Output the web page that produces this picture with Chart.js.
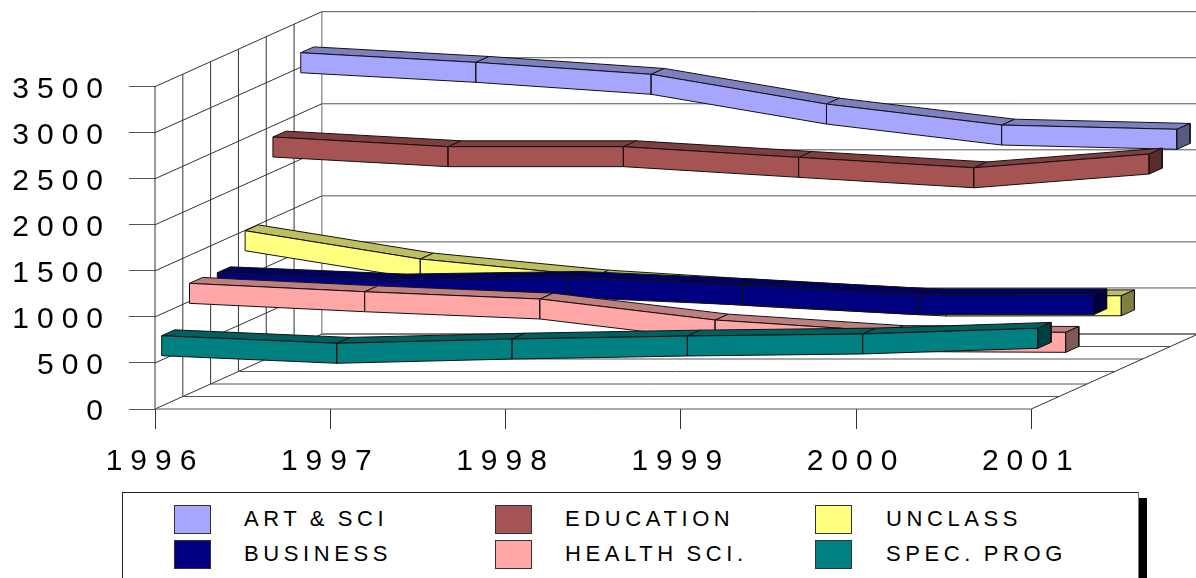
<!DOCTYPE html>
<html>
<head>
<meta charset="utf-8">
<title>Enrollment by college</title>
<script src="https://cdn.jsdelivr.net/npm/chart.js@4"></script>
<style>
    html, body { margin: 0; padding: 0; background: #fff; overflow: hidden; }
    #wrap { position: relative; width: 1196px; height: 578px; overflow: hidden; }
    #chart { position: absolute; left: 0; top: 0; }
    /* Legend is plain html, the built-in one can't do this 3 column box */
    #shadow { position: absolute; left: 1138px; top: 498px; width: 9px; height: 80px; background: #000; }
    #legend { position: absolute; left: 122px; top: 492px; width: 1015px; height: 85px; background: #fff;
              border: 1px solid #222; border-right-color: #777; border-bottom-color: #bbb; }
    .swatch { position: absolute; width: 37px; height: 29px; box-sizing: border-box; border: 1px solid #333; }
    .name { position: absolute; font: 22px "Liberation Sans", Arial, sans-serif; letter-spacing: 4.6px;
            word-spacing: -2px; line-height: 24px; white-space: nowrap; color: #000; }
</style>
</head>
<body>
<div id="wrap">
    <canvas id="chart" width="1196" height="578"></canvas>
    <div id="shadow"></div>
    <div id="legend"></div>
</div>
<script>
// Data
const years = [1996, 1997, 1998, 1999, 2000, 2001];
const yTicks = [0, 500, 1000, 1500, 2000, 2500, 3000, 3500];

const artSci = [3157, 3053, 2923, 2600, 2372, 2326];
const education = [2378, 2273, 2273, 2157, 2044, 2193];
const unclass = [1496, 1189, 1004, 885, 787, 790];
const business = [1176, 1097, 1126, 1042, 937, 937];
const healthSci = [1196, 1105, 1026, 798, 673, 664];
const specProg = [763, 681, 727, 760, 782, 844];

const names = ['ART & SCI', 'EDUCATION', 'UNCLASS', 'BUSINESS', 'HEALTH SCI.', 'SPEC. PROG'];
const seriesValues = [artSci, education, unclass, business, healthSci, specProg];

// front, top, side shades
const shades = [
    ['#A6A6FF', '#7F7FBF', '#595985'],
    ['#A65353', '#7F3F3F', '#592C2C'],
    ['#FFFF80', '#BFBF60', '#808040'],
    ['#000080', '#000060', '#000040'],
    ['#FFA6A6', '#BF7F7F', '#805959'],
    ['#008080', '#006060', '#004040']
];
// depth slot of each series, front slot is 0
const slots = [5, 4, 3, 2, 1, 0];

// Fake 3D: one depth step moves a point right and up, in data units
const DEPTH_STEPS = 6;
const DEPTH_X = 0.1587;
const DEPTH_Y = 135.7;
const RIBBON_NEAR = 0.24;
const RIBBON_FAR = 0.71;
const RIBBON_HEIGHT = 217;

function project(year, value, depth) {
    return { x: year + depth * DEPTH_X, y: value + depth * DEPTH_Y };
}

const datasets = [];

// painter's order, first pushed is drawn first
function addShape(points, fillColor, lineColor) {
    datasets.push({
        data: points,
        showLine: true,
        fill: fillColor ? 'shape' : false,
        backgroundColor: fillColor || 'transparent',
        borderColor: lineColor,
        borderWidth: 1,
        pointRadius: 0,
        tension: 0,
        clip: false,
        order: 100000 - datasets.length
    });
}

// walls and floor
const first = years[0];
const last = years[years.length - 1];
const top3500 = yTicks[yTicks.length - 1];
yTicks.forEach(v => {
    addShape([project(first, v, 0), project(first, v, DEPTH_STEPS)], null, '#333');
    addShape([project(first, v, DEPTH_STEPS), project(last, v, DEPTH_STEPS)], null, '#555');
});
for (let d = 0; d <= DEPTH_STEPS; d++) {
    addShape([project(first, 0, d), project(first, top3500, d)], null, d === DEPTH_STEPS ? '#666' : '#333');
    addShape([project(first, 0, d), project(last, 0, d)], null, '#555');
}
addShape([project(last, 0, 0), project(last, 0, DEPTH_STEPS)], null, '#333');

// ribbons, back one first
seriesValues.forEach((values, s) => {
    const near = slots[s] + RIBBON_NEAR;
    const far = slots[s] + RIBBON_FAR;
    const [front, topFace, side] = shades[s];
    for (let k = 0; k < years.length - 1; k++) {
        const a = project(years[k], values[k], near);
        const b = project(years[k + 1], values[k + 1], near);
        const c = project(years[k + 1], values[k + 1], far);
        const d = project(years[k], values[k], far);
        addShape([a, b, c, d, a], topFace, '#111');
        const e = project(years[k + 1], values[k + 1] - RIBBON_HEIGHT, near);
        const f = project(years[k], values[k] - RIBBON_HEIGHT, near);
        addShape([a, b, e, f, a], front, '#111');
    }
    const n = years.length - 1;
    const p = project(years[n], values[n], near);
    const q = project(years[n], values[n], far);
    const r = project(years[n], values[n] - RIBBON_HEIGHT, far);
    const t = project(years[n], values[n] - RIBBON_HEIGHT, near);
    addShape([p, q, r, t, p], side, '#111');
});

const spacedText = {
    id: 'spacedText',
    beforeDraw(chart) {
        chart.ctx.letterSpacing = '8px';
    }
};

new Chart(document.getElementById('chart'), {
    type: 'scatter',
    data: { datasets: datasets },
    plugins: [spacedText],
    options: {
        responsive: false,
        animation: false,
        layout: { padding: 0 },
        plugins: {
            legend: { display: false },
            tooltip: { enabled: false }
        },
        scales: {
            x: {
                type: 'linear',
                min: 1996,
                max: 2001.94,
                afterFit(scale) {
                    scale.height = 169;
                    scale.paddingLeft = 0;
                    scale.paddingRight = 0;
                },
                afterBuildTicks(scale) { scale.ticks = years.map(v => ({ value: v })); },
                border: { display: false },
                grid: { drawOnChartArea: false, drawTicks: true, tickLength: 20, color: '#333' },
                ticks: {
                    autoSkip: false,
                    maxRotation: 0,
                    padding: 15,
                    color: '#000',
                    font: { family: '"Liberation Sans", Arial, sans-serif', size: 30 },
                    callback: v => String(v)
                }
            },
            y: {
                type: 'linear',
                min: 0,
                max: 4441,
                afterFit(scale) {
                    scale.width = 155;
                    scale.paddingTop = 0;
                    scale.paddingBottom = 0;
                },
                afterBuildTicks(scale) { scale.ticks = yTicks.map(v => ({ value: v })); },
                border: { display: false },
                grid: { drawOnChartArea: false, drawTicks: true, tickLength: 26, color: '#555' },
                ticks: {
                    padding: 18,
                    labelOffset: 3,
                    color: '#000',
                    font: { family: '"Liberation Sans", Arial, sans-serif', size: 30 },
                    callback: v => String(v)
                }
            }
        }
    }
});

// Legend box, 3 columns by 2 rows
const legend = document.getElementById('legend');
const legendCols = [51, 372, 692];
const legendTextCols = [121, 442, 763];
const legendRows = [12, 47];
names.forEach((name, i) => {
    const col = i % 3;
    const row = Math.floor(i / 3);
    const swatch = document.createElement('div');
    swatch.className = 'swatch';
    swatch.style.left = legendCols[col] + 'px';
    swatch.style.top = legendRows[row] + 'px';
    swatch.style.background = shades[i][0];
    legend.appendChild(swatch);
    const label = document.createElement('div');
    label.className = 'name';
    label.textContent = name;
    label.style.left = legendTextCols[col] + 'px';
    label.style.top = (legendRows[row] + 2) + 'px';
    legend.appendChild(label);
});
</script>
</body>
</html>
